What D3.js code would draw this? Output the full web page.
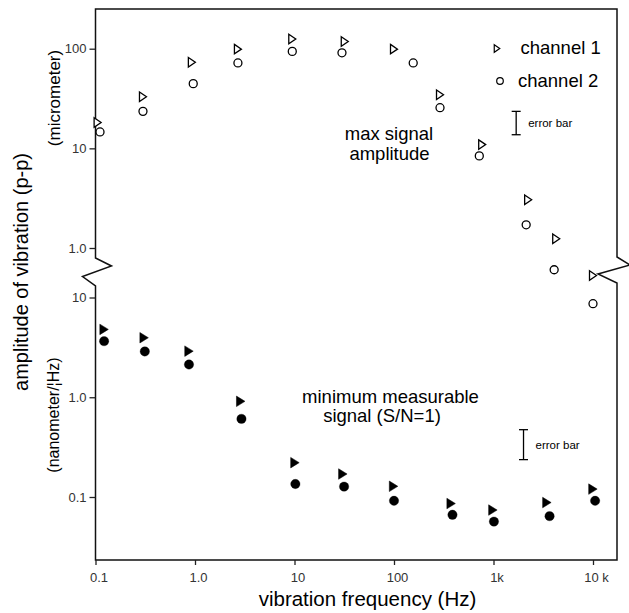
<!DOCTYPE html>
<html><head><meta charset="utf-8">
<script src="https://cdn.jsdelivr.net/npm/d3@7"></script>
<style>body{margin:0;background:#fff}svg{display:block}</style>
</head><body>
<svg id="chart" width="629" height="613"></svg>
<script>
// ---- data ----
const xTickValues = [0.1, 1, 10, 100, 1000, 10000];
const xTickLabels = ["0.1", "1.0", "10", "100", "1k", "10 k"];
const upperTickValues = [100, 10, 1];
const upperTickLabels = ["100", "10", "1.0"];
const lowerTickValues = [10, 1, 0.1];
const lowerTickLabels = ["10", "1.0", "0.1"];

// max signal amplitude (micrometer), open symbols
const ch1MaxFreq = [0.105, 0.30, 0.93, 2.7, 9.5, 32, 100, 290, 770, 2230, 4270, 10000];
const ch1MaxVal  = [18.2, 33, 73, 99, 125, 118, 99, 34.5, 10.9, 3.05, 1.24, 0.53];
const ch2MaxFreq = [0.111, 0.30, 0.96, 2.7, 9.5, 30, 156, 290, 720, 2130, 4070, 10000];
const ch2MaxVal  = [14.6, 23.5, 44.6, 72, 94, 91, 72, 25.6, 8.4, 1.71, 0.605, 0.276];

// minimum measurable signal (nanometer/sqrtHz), filled symbols
const ch1MinFreq = [0.122, 0.308, 0.87, 2.88, 10.1, 30.6, 99, 375, 986, 3440, 9980];
const ch1MinVal  = [4.79, 3.95, 2.90, 0.91, 0.221, 0.170, 0.128, 0.086, 0.074, 0.088, 0.120];
const ch2MinFreq = [0.122, 0.313, 0.87, 2.93, 10.2, 31.5, 100, 387, 1010, 3660, 10500];
const ch2MinVal  = [3.65, 2.88, 2.13, 0.607, 0.135, 0.127, 0.0916, 0.0663, 0.0567, 0.0643, 0.0916];

// error bar annotations [freq, low, high]
const errorBarMax = [1690, 13.7, 23.5];
const errorBarMin = [2003, 0.237, 0.473];

const legendLabels = ["channel 1", "channel 2"];

// ---- layout ----
const svg = d3.select("#chart");
const L = 95.5, R = 617, T = 9, B = 560;
const font = "'Liberation Sans', Arial, sans-serif";
const x = d3.scaleLog().domain([0.1, 10000]).range([95.5, 593]);
const yUp = d3.scaleLog().domain([1, 100]).range([248, 48.7]);
const yLo = d3.scaleLog().domain([0.1, 10]).range([497, 297.5]);

// frame with axis breaks
const frame = d3.path();
frame.moveTo(L, T); frame.lineTo(R, T);
frame.lineTo(R, 257); frame.lineTo(R + 13, 265); frame.lineTo(598, 274); frame.lineTo(R, 283);
frame.lineTo(R, B); frame.lineTo(L, B);
frame.lineTo(L, 286); frame.lineTo(82.5, 276.5); frame.lineTo(111.5, 266); frame.lineTo(L, 258);
frame.closePath();
svg.append("path").attr("d", frame.toString()).attr("fill", "none")
  .attr("stroke", "#111").attr("stroke-width", 1.5).attr("stroke-linejoin", "miter");

function styleAxis(g) {
  g.select(".domain").remove();
  g.selectAll(".tick line").attr("stroke", "#222").attr("stroke-width", 1.3);
  g.selectAll(".tick text").attr("font-family", font).attr("font-size", 13).attr("fill", "#333");
}

svg.append("g").attr("transform", `translate(${L},0)`)
  .call(d3.axisLeft(yUp).tickValues(upperTickValues).tickFormat((d, i) => upperTickLabels[i]).tickSize(6).tickPadding(3))
  .call(styleAxis);
svg.append("g").attr("transform", `translate(${L},0)`)
  .call(d3.axisLeft(yLo).tickValues(lowerTickValues).tickFormat((d, i) => lowerTickLabels[i]).tickSize(6).tickPadding(3))
  .call(styleAxis);
svg.append("g").attr("transform", `translate(0,${B})`)
  .call(d3.axisBottom(x).tickValues(xTickValues).tickFormat((d, i) => xTickLabels[i]).tickSize(5).tickPadding(8))
  .call(styleAxis)
  .selectAll(".tick text").attr("dx", 3);

// symbols
function tri(w, h) { return `M${-w/2},${-h/2}L${w/2},0L${-w/2},${h/2}Z`; }
function plot(freqs, vals, y, kind, filled) {
  const g = svg.append("g");
  const data = freqs.map((f, i) => [f, vals[i]]);
  if (kind === "tri") {
    g.selectAll("path").data(data).join("path")
      .attr("transform", d => `translate(${x(d[0])},${y(d[1])})`)
      .attr("d", filled ? tri(8.5, 10.5) : tri(7, 9.5))
      .attr("fill", filled ? "#000" : "#fff").attr("stroke", "#000")
      .attr("stroke-width", filled ? 0.5 : 1.3).attr("stroke-linejoin", "miter");
  } else {
    g.selectAll("circle").data(data).join("circle")
      .attr("cx", d => x(d[0])).attr("cy", d => y(d[1]))
      .attr("r", filled ? 4.7 : 4.0)
      .attr("fill", filled ? "#000" : "#fff").attr("stroke", "#000")
      .attr("stroke-width", filled ? 0.3 : 1.3);
  }
}
plot(ch2MaxFreq, ch2MaxVal, yUp, "circle", false);
plot(ch1MaxFreq, ch1MaxVal, yUp, "tri", false);
plot(ch2MinFreq, ch2MinVal, yLo, "circle", true);
plot(ch1MinFreq, ch1MinVal, yLo, "tri", true);

// error bars
function errBar(eb, y, capW) {
  const g = svg.append("g").attr("stroke", "#000").attr("stroke-width", 1.3);
  const xx = x(eb[0]);
  g.append("line").attr("x1", xx).attr("x2", xx).attr("y1", y(eb[1])).attr("y2", y(eb[2]));
  [eb[1], eb[2]].forEach(v => g.append("line").attr("x1", xx - capW/2).attr("x2", xx + capW/2).attr("y1", y(v)).attr("y2", y(v)));
  svg.append("text").attr("x", xx + 12).attr("y", (y(eb[1]) + y(eb[2])) / 2 + 4)
    .attr("font-family", font).attr("font-size", 11.5).attr("fill", "#000").text("error bar");
}
errBar(errorBarMax, yUp, 9);
errBar(errorBarMin, yLo, 9);

// legend
const lg = svg.append("g");
lg.append("path").attr("transform", "translate(497,48.5)").attr("d", tri(5.5, 7.5))
  .attr("fill", "#fff").attr("stroke", "#000").attr("stroke-width", 1.2);
lg.append("circle").attr("cx", 500).attr("cy", 81).attr("r", 3.3)
  .attr("fill", "#fff").attr("stroke", "#000").attr("stroke-width", 1.2);
lg.append("text").attr("x", 520.5).attr("y", 53.5).text(legendLabels[0]);
lg.append("text").attr("x", 518).attr("y", 86.5).text(legendLabels[1]);
lg.selectAll("text").attr("font-family", font).attr("font-size", 18.5).attr("fill", "#000");

// annotations
function label(xp, yp, txt, size, anchor, rot) {
  const t = svg.append("text").attr("font-family", font).attr("font-size", size)
    .attr("fill", "#000").attr("text-anchor", anchor || "middle").text(txt);
  if (rot) t.attr("transform", `translate(${xp},${yp}) rotate(-90)`);
  else t.attr("x", xp).attr("y", yp);
  return t;
}
label(389, 140, "max signal", 18.5);
label(389.5, 160, "amplitude", 18.5);
label(390.5, 403, "minimum measurable", 18.5);
label(382, 422, "signal (S/N=1)", 18.5);
label(367.5, 606, "vibration frequency (Hz)", 20.5);
label(28, 272, "amplitude of vibration (p-p)", 20, "middle", true);
label(60, 98, "(micrometer)", 17, "middle", true);
label(59, 415, "(nanometer/\u00A6Hz)", 16, "middle", true);
</script>
</body></html>
